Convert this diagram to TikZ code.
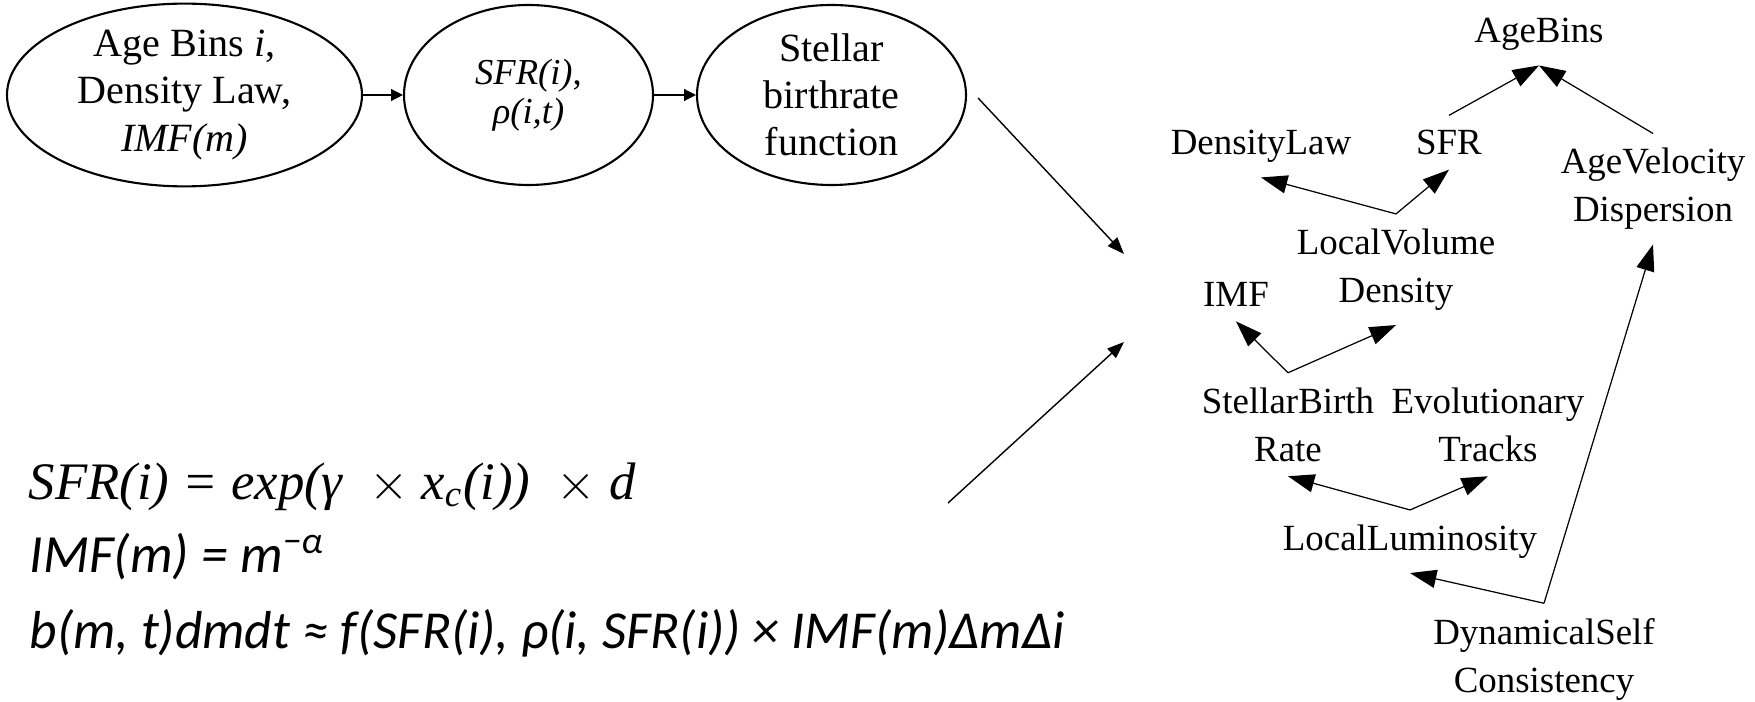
\documentclass[tikz,border=0pt]{standalone}
\usepackage{fontspec}
\setmainfont{Liberation Serif}[ItalicFont={Liberation Serif Italic}]
\newfontfamily\eqfont{Carlito}
\usetikzlibrary{arrows.meta, positioning, shapes.geometric}

\begin{document}
\begin{tikzpicture}[
    every node/.style={font=\fontsize{11.4}{13.4}\selectfont},
    stage/.style={ellipse, draw, line width=0.6pt, minimum width=3.55cm, minimum height=1.8cm, inner sep=0pt, align=center},
    factor/.style={align=center, inner xsep=2pt, inner ysep=4pt, font=\fontsize{10.5}{13.66}\selectfont},
    arrow/.style={-{Triangle[length=3.4pt, width=3.4pt]}, line width=0.4pt},
    bigarrow/.style={-{Triangle[length=4.8pt, width=3.6pt]}, line width=0.4pt},
    dep/.style={-{Triangle[length=7.5pt, width=5.2pt]}, line width=0.35pt},
    formula/.style={anchor=base west, inner sep=0pt}
]
\useasboundingbox (0,0) rectangle (17.55,-7.02);

% ============ PIPELINE ============
\node[stage] (ages) at (1.845,-0.95) {Age Bins \textit{i},\\Density Law,\\\textit{IMF(m)}};
\node[stage, minimum width=2.49cm, font=\fontsize{10.4}{11.1}\selectfont] (rates) at (5.285,-0.95) {\textit{SFR(i)},\\\textit{ρ(i,t)}};
\node[stage, minimum width=2.69cm] (birth) at (8.315,-0.95) {Stellar\\birthrate\\function};

\draw[arrow] (ages) -- (rates);
\draw[arrow] (rates) -- (birth);

% ============ EQUATIONS ============
\node[formula, font=\fontsize{15}{16}\selectfont\itshape] (sfreq) at (0.28,-4.99) {SFR(i) = exp(γ \ $\times$\ x\textsubscript{c}(i)) \ $\times$\ d};
\node[formula, font=\eqfont\fontsize{15.3}{16}\selectfont\itshape] (imfeq) at (0.29,-5.72) {IMF(m) = m\textsuperscript{−α}};
\node[formula, font=\eqfont\fontsize{15.2}{16}\selectfont\itshape] (beq) at (0.29,-6.48) {b(m, t)dmdt ≈ f(SFR(i), ρ(i, SFR(i)) × IMF(m)ΔmΔi};

% links into the graph
\coordinate (graphtop) at (11.24,-2.54);
\coordinate (graphbot) at (11.24,-3.42);
\coordinate (eqtail) at (9.48,-5.03);
\draw[bigarrow] ([xshift=0.11cm, yshift=-0.03cm]birth.east) -- (graphtop);
\draw[bigarrow] (eqtail) -- (graphbot);

% ============ DEPENDENCY GRAPH ============
\node[factor] (agebins) at (15.39,-0.345) {AgeBins};
\node[factor] (densitylaw) at (12.61,-1.465) {DensityLaw};
\node[factor] (sfr) at (14.49,-1.425) {SFR};
\node[factor] (agevel) at (16.53,-1.89) {AgeVelocity\\Dispersion};
\node[factor] (localvol) at (13.96,-2.695) {LocalVolume\\Density};
\node[factor] (imf) at (12.36,-2.945) {IMF};
\node[factor] (birthrate) at (12.88,-4.245) {StellarBirth\\Rate};
\node[factor] (tracks) at (14.88,-4.245) {Evolutionary\\Tracks};
\node[factor] (lumin) at (14.10,-5.415) {LocalLuminosity};
\node[factor] (dynself) at (15.44,-6.59) {DynamicalSelf\\Consistency};

\draw[dep] (sfr.north) -- (agebins.south);
\draw[dep] (agevel.north) -- (agebins.south);
\draw[dep] (localvol.north) -- (densitylaw.south);
\draw[dep] (localvol.north) -- (sfr.south);
\draw[dep] (birthrate.north) -- (imf.south);
\draw[dep] (birthrate.north) -- (localvol.south);
\draw[dep] (lumin.north) -- (birthrate.south);
\draw[dep] (lumin.north) -- (tracks.south);
\draw[dep] (dynself.north) -- (lumin.south);
\draw[dep] (dynself.north) -- (agevel.south);

\end{tikzpicture}
\end{document}
